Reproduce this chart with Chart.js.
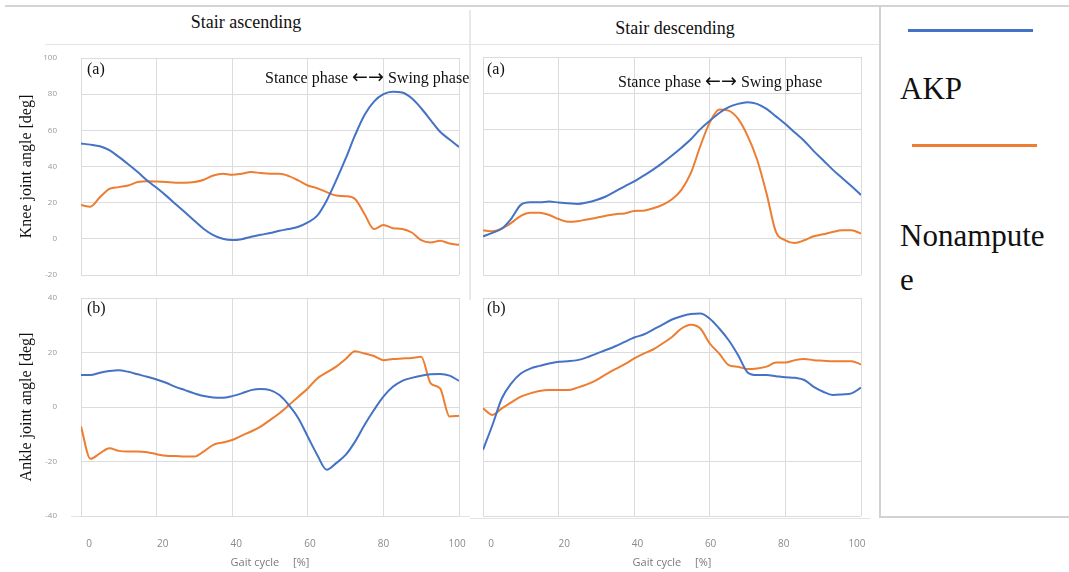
<!DOCTYPE html>
<html>
<head>
<meta charset="utf-8">
<title>Knee and ankle joint angles, stair ascending and descending</title>
<script src="https://cdn.jsdelivr.net/npm/chart.js@4/dist/chart.umd.min.js"></script>
<style>
	body {
		margin: 0;
		width: 1069px;
		height: 572px;
		position: relative;
		overflow: hidden;
		background: #fff;
		font-family: "Liberation Serif", serif;
		color: #111;
	}
	canvas, .txt, .rule { position: absolute; }
	.txt { white-space: nowrap; line-height: 1; }
	.title { font-size: 18px; width: 200px; text-align: center; }
	.phase { font-size: 16px; }
	.phase .arrow { font-family: "DejaVu Sans", sans-serif; font-size: 19px; line-height: 0; }
	.tag { font-size: 16px; }
	.rule { background: #dcdcdc; }
	#legend-box {
		position: absolute;
		left: 879px; top: 6px;
		width: 200px; height: 510px;
		border-left: 2px solid #d2d2d2;
		border-bottom: 2px solid #d2d2d2;
	}
	.key { position: absolute; height: 3px; width: 125px; }
	.key-name {
		position: absolute;
		font-size: 31px;
		line-height: 44px;
		width: 150px;
		word-break: break-all;
	}
</style>
</head>
<body>

<div class="rule" style="left:5px; top:5px; width:1064px; height:2px; background:#d4d4d4"></div>
<div class="rule" style="left:469px; top:10px; width:2px; height:290px; background:#e8e8e8"></div>
<div class="rule" style="left:45px; top:44px; width:835px; height:1px; background:#e4e4e4"></div>
<div class="rule" style="left:71px; top:516px; width:399px; height:1px; background:#e4e4e4"></div>
<div class="rule" style="left:470px; top:518px; width:400px; height:1px; background:#e4e4e4"></div>
<div id="legend-box"></div>

<div class="txt title" style="left:146px; top:13px">Stair ascending</div>
<div class="txt title" style="left:575px; top:19px">Stair descending</div>

<canvas id="knee-asc" width="470" height="250" style="left:0; top:40px"></canvas>
<canvas id="knee-desc" width="410" height="250" style="left:470px; top:40px"></canvas>
<canvas id="ankle-asc" width="470" height="282" style="left:0; top:290px"></canvas>
<canvas id="ankle-desc" width="410" height="282" style="left:470px; top:290px"></canvas>

<div class="txt tag" style="left:87px; top:61px">(a)</div>
<div class="txt tag" style="left:487px; top:61px">(a)</div>
<div class="txt tag" style="left:87px; top:300px">(b)</div>
<div class="txt tag" style="left:487px; top:300px">(b)</div>
<div class="txt phase" style="left:265px; top:70px">Stance phase <span class="arrow">←→</span> Swing phase</div>
<div class="txt phase" style="left:618px; top:74px">Stance phase <span class="arrow">←→</span> Swing phase</div>

<div id="legend"></div>

<script>
// gait cycle [%], shared by every curve
const gaitPct = [0, 2.5, 5, 7.5, 10, 12.5, 15, 17.5, 20, 22.5, 25, 27.5, 30, 32.5, 35, 37.5, 40,
	42.5, 45, 47.5, 50, 52.5, 55, 57.5, 60, 62.5, 65, 67.5, 70, 72.5, 75, 77.5, 80, 82.5, 85, 87.5,
	90, 92.5, 95, 97.5, 100];
const gaitTicks = [0, 20, 40, 60, 80, 100];

const seriesNames = ["AKP", "Nonamputee"];
const seriesColors = ["#4472C4", "#ED7D31"];

// knee joint angle [deg]
const kneeAscAKP = [52.7, 52.1, 51.2, 49, 45.3, 41.2, 36.9, 32.3, 28.2, 23.9, 19.3, 14.7, 10, 5.4,
	2, 0, -0.7, -0.2, 1.1, 2.2, 3.2, 4.5, 5.4, 6.7, 9.1, 12.8, 21.2, 32.3, 44.3, 57.3, 68.5, 75.9,
	80, 81.4, 80.9, 77.7, 72.2, 65.7, 59.2, 54.9, 50.8];
const kneeAscNon = [18.7, 17.8, 23, 27.6, 28.6, 29.5, 31.4, 31.9, 31.7, 31.4, 31, 31, 31.4, 32.7,
	35, 36, 35.4, 36, 36.9, 36.4, 36, 36, 34.7, 32.3, 29.5, 28, 25.8, 23.9, 23.6, 22, 13.7, 5.4,
	7.6, 5.9, 5.4, 3.5, -0.7, -2, -1.1, -2.6, -3.3];
const kneeDescAKP = [1.3, 3.2, 5.6, 11.1, 18.6, 20, 20, 20.4, 19.9, 19.5, 19.1, 19.9, 21.3, 23.2,
	26, 28.8, 31.5, 34.7, 38, 41.7, 45.8, 50.1, 54.7, 60.3, 64.9, 69.2, 72.4, 74.2, 75.1, 74.2,
	71.4, 67.3, 63.1, 58.4, 53.8, 48.2, 43.2, 38, 33.4, 28.8, 24.1];
const kneeDescNon = [4.6, 4.1, 5.6, 8.7, 12.6, 14.3, 14.3, 13, 10.8, 9.3, 9.6, 10.6, 11.5, 12.6,
	13.5, 13.9, 15.2, 15.4, 16.7, 18.6, 21.7, 26.9, 36.2, 51, 64, 71.1, 70.5, 65.9, 56.6, 43.6, 25,
	3.7, -0.9, -2.4, -0.9, 1.3, 2.4, 3.7, 4.6, 4.6, 2.8];

// ankle joint angle [deg]
const ankleAscAKP = [11.7, 11.7, 12.6, 13.2, 13.5, 12.9, 12, 11.1, 10.1, 8.9, 7.4, 6.2, 5, 4, 3.5,
	3.4, 4, 5, 6.2, 6.6, 6.2, 4.4, 0.7, -4.1, -10.9, -17.6, -23, -20.6, -17.6, -12.7, -6.6, -1.1,
	3.8, 7.4, 9.6, 10.7, 11.5, 12, 12.1, 11.5, 9.6];
const ankleAscNon = [-7.2, -19, -17, -15.1, -16.1, -16.3, -16.3, -16.6, -17.3, -17.9, -18, -18.2,
	-18.2, -16.3, -13.9, -13, -12.1, -10.5, -9, -7.2, -4.8, -2.3, 0.7, 3.8, 6.8, 10.5, 12.7, 14.8,
	17.6, 20.5, 19.6, 18.7, 17.2, 17.6, 17.8, 18, 18.4, 8.7, 6.8, -3.5, -3.2];
const ankleDescAKP = [-15.7, -6.6, 3.2, 8.7, 12.3, 14.1, 15.1, 16, 16.6, 16.8, 17.2, 18.2, 19.6,
	20.9, 22.3, 23.9, 25.5, 26.6, 28.4, 30.2, 32.1, 33.3, 34.1, 34.3, 32.4, 28.8, 24.5, 19, 12.7,
	11.7, 11.7, 11.3, 10.9, 10.7, 9.9, 7.4, 5.6, 4.4, 4.6, 5, 7.1];
const ankleDescNon = [-0.5, -2.9, -0.5, 1.7, 3.8, 5, 5.9, 6.2, 6.2, 6.2, 7.1, 8.3, 9.9, 12, 13.9,
	15.7, 17.8, 19.6, 21.1, 23.3, 25.7, 28.8, 30.2, 28.8, 23.3, 19.6, 15.4, 14.8, 13.9, 14.1, 14.8,
	16.3, 16.3, 17.2, 17.6, 17.2, 17, 16.8, 16.8, 16.8, 15.6];

const gridColor = "#dcdcdc";
const tickColor = "#999";
const sans = "'Open Sans', 'Liberation Sans', sans-serif";
const serif = "'Liberation Serif', serif";

/**
* @param {string} id
* @param {number[][]} curves
* @param {object} box  layout of the panel inside its canvas
* */
function makePanel(id, curves, box) {
	const $canvas = document.getElementById(id);

	// invisible tick marks push the labels away from the plot
	// (ticks.padding would also shrink the plot area)
	const scales = {
		x: {
			type: "linear",
			min: 0,
			max: 100,
			border: { display: false },
			grid: { color: gridColor, drawTicks: false },
			ticks: { display: false, stepSize: 20 },
			afterFit: (s) => { s.height = box.xHeight; }
		},
		y: {
			min: box.yMin,
			max: box.yMax,
			border: { display: false },
			grid: { color: gridColor, drawTicks: true, tickLength: 24, tickColor: "rgba(0,0,0,0)" },
			ticks: {
				display: !!box.yTitle,
				stepSize: 20,
				padding: 0,
				color: tickColor,
				font: { family: sans, size: 8 }
			},
			title: {
				display: !!box.yTitle,
				text: box.yTitle || "",
				color: "#111",
				font: { family: serif, size: 16 },
				padding: { top: 17, bottom: 0 }
			},
			afterFit: (s) => { s.width = box.yWidth; }
		}
	};

	if (box.labelAxis) {
		// tick labels of the gait cycle sit slightly off the gridlines
		scales.xl = {
			type: "linear",
			position: "bottom",
			min: box.labelAxis[0],
			max: box.labelAxis[1],
			border: { display: false },
			grid: { drawOnChartArea: false, drawTicks: true, tickLength: 22, tickColor: "rgba(0,0,0,0)" },
			ticks: { padding: 0, color: "#8a8a8a", font: { family: sans, size: 10 } },
			afterBuildTicks: (s) => { s.ticks = gaitTicks.map((v) => ({ value: v })); },
			title: {
				display: true,
				text: "Gait cycle\u2003 [%]",
				color: "#7a7a7a",
				font: { family: sans, size: 11 },
				padding: { top: 0, bottom: 3 }
			},
			afterFit: (s) => { s.height = 56; }
		};
	}

	return new Chart($canvas, {
		type: "line",
		data: {
			datasets: curves.map((values, i) => ({
				label: seriesNames[i],
				data: gaitPct.map((x, j) => ({ x, y: values[j] })),
				borderColor: seriesColors[i],
				borderWidth: 2,
				pointRadius: 0,
				cubicInterpolationMode: "monotone",
				xAxisID: "x",
				yAxisID: "y"
			}))
		},
		options: {
			responsive: false,
			animation: false,
			events: [],
			layout: { padding: { top: box.padTop, right: box.padRight, left: 0, bottom: 0 } },
			plugins: { legend: { display: false }, tooltip: { enabled: false } },
			scales
		}
	});
}

makePanel("knee-asc", [kneeAscAKP, kneeAscNon], {
	yMin: -20, yMax: 100, yTitle: "Knee joint angle [deg]",
	yWidth: 81, xHeight: 15, padTop: 18, padRight: 11
});
makePanel("knee-desc", [kneeDescAKP, kneeDescNon], {
	yMin: -20, yMax: 100,
	yWidth: 13, xHeight: 15, padTop: 17, padRight: 19
});
makePanel("ankle-asc", [ankleAscAKP, ankleAscNon], {
	yMin: -40, yMax: 40, yTitle: "Ankle joint angle [deg]",
	yWidth: 81, xHeight: 0, padTop: 8, padRight: 11, labelAxis: [-2.2, 100.5]
});
makePanel("ankle-desc", [ankleDescAKP, ankleDescNon], {
	yMin: -40, yMax: 40,
	yWidth: 13, xHeight: 0, padTop: 8, padRight: 19, labelAxis: [-2.2, 101.1]
});

// legend panel on the right
const $legend = document.getElementById("legend");
const keyLayout = [
	{ line: [908, 29], text: [900, 67] },
	{ line: [912, 144], text: [900, 214] }
];
seriesNames.forEach((name, i) => {
	const $line = document.createElement("div");
	$line.className = "key";
	$line.style.left = keyLayout[i].line[0] + "px";
	$line.style.top = keyLayout[i].line[1] + "px";
	$line.style.background = seriesColors[i];
	$legend.appendChild($line);

	const $name = document.createElement("div");
	$name.className = "key-name";
	$name.style.left = keyLayout[i].text[0] + "px";
	$name.style.top = keyLayout[i].text[1] + "px";
	$name.textContent = name;
	$legend.appendChild($name);
});
</script>
</body>
</html>
